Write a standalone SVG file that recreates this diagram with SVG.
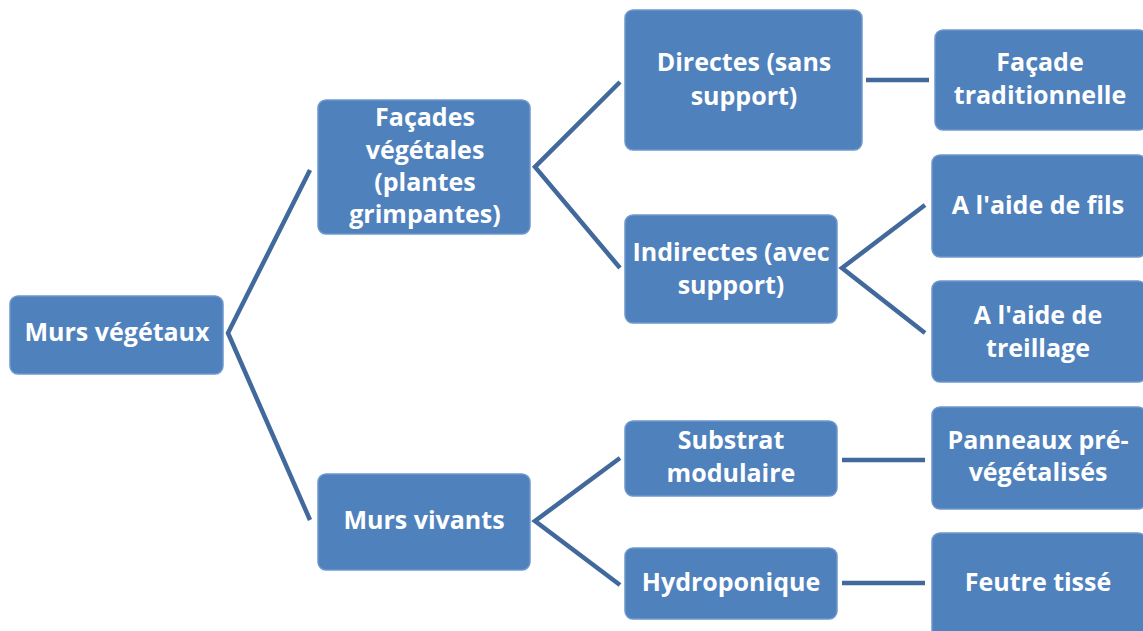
<svg xmlns="http://www.w3.org/2000/svg" width="1143" height="631" viewBox="0 0 1143 631">
<style>
.box{fill:#4F81BD;stroke:#6F98CC;stroke-width:1.5}
.t{font-family:"Open Sans",Lato,"Liberation Sans",sans-serif;font-weight:bold;font-size:25px;fill:#FFFFFF;text-anchor:middle}
.c{fill:none;stroke:#41699C;stroke-width:4.5;stroke-linejoin:miter}
</style>
<rect width="1143" height="631" fill="#FFFFFF"/>
<g id="connectors">
<path class="c" d="M310,170 L228,333 L310,520"/>
<path class="c" d="M620,82 L535,167 L620,268"/>
<path class="c" d="M620,458 L535,521 L620,585"/>
<path class="c" d="M866,80 L929,80"/>
<path class="c" d="M925,205 L842,268 L925,333"/>
<path class="c" d="M842,460 L925,460"/>
<path class="c" d="M842,583 L925,583"/>
</g>
<g id="n-murs-vegetaux"><rect class="box" x="10" y="296" width="213" height="78" rx="8"/><text class="t" x="117" y="341">Murs végétaux</text></g>
<g id="n-facades"><rect class="box" x="318" y="100" width="212" height="134" rx="8"/><text class="t" x="425" y="126">Façades</text><text class="t" x="425" y="159">végétales</text><text class="t" x="425" y="191">(plantes</text><text class="t" x="425" y="223">grimpantes)</text></g>
<g id="n-murs-vivants"><rect class="box" x="318" y="474" width="212" height="96" rx="8"/><text class="t" x="424" y="529">Murs vivants</text></g>
<g id="n-directes"><rect class="box" x="625" y="10" width="237" height="140" rx="8"/><text class="t" x="744" y="71">Directes (sans</text><text class="t" x="744" y="105">support)</text></g>
<g id="n-indirectes"><rect class="box" x="625" y="215" width="212" height="108" rx="8"/><text class="t" x="731" y="261">Indirectes (avec</text><text class="t" x="731" y="294">support)</text></g>
<g id="n-substrat"><rect class="box" x="625" y="421" width="212" height="75" rx="8"/><text class="t" x="731" y="449">Substrat</text><text class="t" x="731" y="482">modulaire</text></g>
<g id="n-hydro"><rect class="box" x="625" y="548" width="212" height="71" rx="8"/><text class="t" x="731" y="591">Hydroponique</text></g>
<g id="n-facade-trad"><rect class="box" x="935" y="30" width="212" height="100" rx="8"/><text class="t" x="1040" y="71">Façade</text><text class="t" x="1040" y="104">traditionnelle</text></g>
<g id="n-fils"><rect class="box" x="932" y="155" width="214" height="102" rx="8"/><text class="t" x="1038" y="214">A l'aide de fils</text></g>
<g id="n-treillage"><rect class="box" x="932" y="281" width="214" height="101" rx="8"/><text class="t" x="1038" y="324">A l'aide de</text><text class="t" x="1038" y="357">treillage</text></g>
<g id="n-panneaux"><rect class="box" x="932" y="407" width="214" height="102" rx="8"/><text class="t" x="1038" y="449">Panneaux pré-</text><text class="t" x="1038" y="481">végétalisés</text></g>
<g id="n-feutre"><rect class="box" x="932" y="533" width="214" height="110" rx="8"/><text class="t" x="1038" y="591">Feutre tissé</text></g>
</svg>
